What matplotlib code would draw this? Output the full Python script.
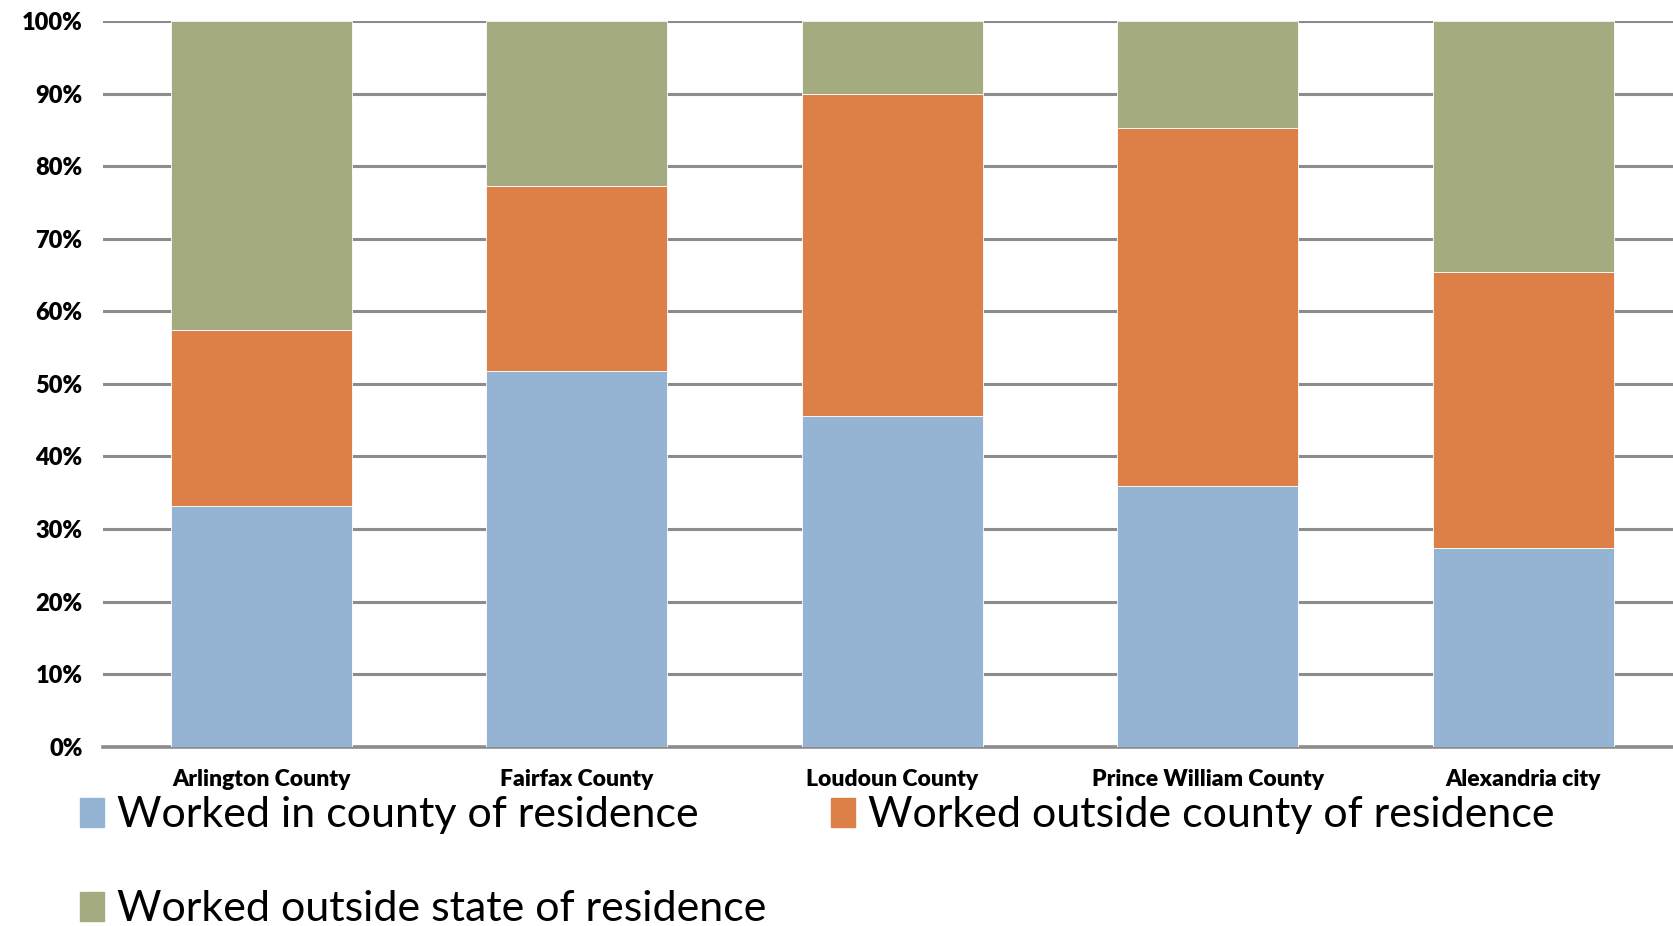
import numpy as np
import matplotlib
matplotlib.use("Agg")
import matplotlib.pyplot as plt
from matplotlib.patches import Patch
from matplotlib.ticker import PercentFormatter

counties = ["Arlington County", "Fairfax County", "Loudoun County",
            "Prince William County", "Alexandria city"]
in_county = [33.2, 51.8, 45.6, 35.9, 27.4]
outside_county = [24.2, 25.5, 44.4, 49.4, 38.0]
outside_state = [42.6, 22.7, 10.0, 14.7, 34.6]

series_names = ["Worked in county of residence",
                "Worked outside county of residence",
                "Worked outside state of residence"]
colors = ["#95B3D3", "#DD8047", "#A5AB81"]

plt.rcParams['font.family'] = ['Lato', 'DejaVu Sans']

fig = plt.figure(figsize=(16.74, 9.26), dpi=100)
ax = fig.add_axes([0.0618, 0.1936, 0.9424, 0.7837])

x = np.arange(len(counties))
bottom = np.zeros(len(counties))
for vals, c in zip([in_county, outside_county, outside_state], colors):
    ax.bar(x, vals, width=0.574, bottom=bottom, color=c,
           edgecolor="white", linewidth=0.6, zorder=3)
    bottom += np.array(vals)

ax.set_xlim(-0.5, len(counties) - 0.5)
ax.set_ylim(0, 100)
ax.set_yticks(np.arange(0, 101, 10))
ax.yaxis.set_major_formatter(PercentFormatter(decimals=0))
ax.grid(axis="y", color="#8C8C8C", linewidth=2.2, zorder=0)
for s in ["top", "right", "left"]:
    ax.spines[s].set_visible(False)
ax.spines["bottom"].set_color("#8C8C8C")
ax.spines["bottom"].set_linewidth(2.6)
ax.tick_params(axis="y", length=0, pad=15, labelsize=17)
ax.tick_params(axis="x", length=0, pad=16, labelsize=16.5)
ax.set_xticks(x)
ax.set_xticklabels(counties)
for lbl in ax.get_xticklabels() + ax.get_yticklabels():
    lbl.set_fontweight("heavy")

handles = [Patch(color=c) for c in colors]
# reorder so that legend fills rows: blue, orange / green
order = [0, 2, 1]
fig.legend([handles[i] for i in order], [series_names[i] for i in order],
           loc="upper left", bbox_to_anchor=(0.048, 0.140), ncol=2,
           frameon=False, fontsize=31, handlelength=0.55, handleheight=0.65,
           handletextpad=0.3, labelspacing=1.3, columnspacing=1.5,
           borderaxespad=0, borderpad=0)

fig.savefig("out.png", dpi=100)
